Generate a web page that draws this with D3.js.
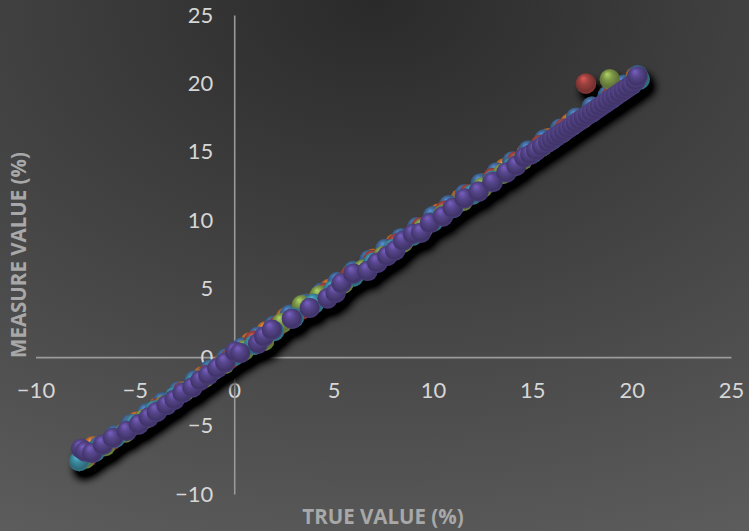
<!DOCTYPE html>
<html>
<head>
<meta charset="utf-8">
<script src="https://cdn.jsdelivr.net/npm/d3@7"></script>
<style>
  html, body { margin: 0; padding: 0; background: #3a3a3a; }
  svg { display: block; }
  .tick text { font-family: Lato, "Open Sans", sans-serif; font-size: 22px; fill: #d6d6d6; }
  .ttl { font-family: "Open Sans", Lato, sans-serif; font-size: 20.5px; font-weight: bold; fill: #a8a8a8; }
</style>
</head>
<body>
<svg id="chart" width="749" height="531"></svg>
<script>
// tick labels
const xTicks = [-10, -5, 0, 5, 10, 15, 20, 25];
const yTicks = [-10, -5, 0, 5, 10, 15, 20, 25];

// series (true value, measured value)
const orangeX = [-7.1, -6.0, -4.9, -3.8, -2.7, -1.6, -0.5, 0.8, 1.6, 2.6, 3.7, 4.8, 5.9, 7.0, 8.1, 9.2, 10.3, 11.4, 12.5, 13.6, 14.7, 15.8, 16.9, 18.0, 19.1, 20.2];
const orangeY = [-6.5, -5.8, -4.7, -3.6, -2.5, -1.4, -0.3, 1.1, 1.9, 2.9, 3.9, 5.0, 6.1, 7.2, 8.3, 9.4, 10.5, 11.6, 12.7, 13.8, 14.9, 16.0, 17.1, 18.2, 19.3, 20.5];
const blueX = [-7.6, -6.8, -6.0, -5.2, -4.4, -3.6, -2.8, -2.0, -1.2, -0.4, 0.4, 1.2, 2.0, 2.8, 3.6, 4.4, 5.2, 6.0, 6.8, 7.6, 8.4, 9.2, 10.0, 10.8, 11.6, 12.4, 13.2, 14.0, 14.8, 15.6, 16.4, 17.2, 18.0, 18.8, 19.6, 20.3];
const blueY = [-7.3, -6.5, -5.7, -4.9, -4.1, -3.3, -2.5, -1.7, -0.9, -0.1, 0.7, 1.5, 2.3, 3.1, 3.9, 4.7, 5.5, 6.3, 7.1, 7.9, 8.7, 9.5, 10.3, 11.1, 11.9, 12.7, 13.5, 14.3, 15.1, 15.9, 16.7, 17.5, 18.3, 19.1, 19.9, 20.6];
const redX = [-7.4, -6.2, -5.0, -3.8, -2.6, -1.4, -0.2, 1.0, 2.2, 3.4, 4.6, 5.8, 7.0, 8.2, 9.4, 10.6, 11.8, 13.0, 14.2, 15.4, 16.6, 17.7, 19.0, 20.2];
const redY = [-7.3, -6.1, -4.9, -3.7, -2.5, -1.3, -0.1, 1.2, 2.3, 3.5, 4.7, 5.9, 7.1, 8.3, 9.5, 10.7, 11.9, 13.1, 14.3, 15.5, 16.7, 20.0, 19.1, 20.3];
const greenX = [-7.5, -6.5, -5.5, -4.5, -3.5, -2.5, -1.5, -0.5, 0.5, 1.5, 2.4, 3.4, 4.3, 5.5, 6.5, 7.5, 8.5, 9.5, 10.5, 11.5, 12.5, 13.5, 14.5, 15.5, 16.5, 17.5, 18.9, 20.1];
const greenY = [-7.4, -6.5, -5.5, -4.5, -3.5, -2.5, -1.5, -0.5, 0.5, 1.2, 2.5, 3.8, 4.5, 5.4, 6.4, 7.4, 8.4, 9.4, 10.4, 11.4, 12.4, 13.4, 14.4, 15.4, 16.4, 17.4, 20.3, 20.1];
const aquaX = [-7.8, -7.0, -6.0, -5.0, -4.0, -3.0, -2.0, -1.0, 0.0, 1.0, 2.0, 3.0, 4.0, 5.0, 6.0, 7.0, 8.0, 9.0, 10.0, 11.0, 12.0, 13.0, 14.0, 15.0, 16.0, 17.0, 18.0, 19.0, 20.0, 20.4];
const aquaY = [-7.6, -6.9, -5.9, -4.9, -3.9, -2.9, -1.9, -0.9, 0.1, 0.9, 1.9, 2.9, 3.9, 4.9, 5.9, 6.9, 7.9, 8.9, 9.9, 10.9, 11.9, 12.9, 13.9, 14.9, 15.9, 16.9, 17.9, 18.9, 19.9, 20.3];
const purpleX = [-7.7, -7.5, -7.15, -6.6, -6.1, -5.4, -4.8, -4.3, -3.9, -3.4, -3.0, -2.6, -2.1, -1.7, -1.3, -0.85, -0.45, 0.05, 0.3, 1.2, 1.5, 1.9, 2.9, 3.8, 4.7, 5.1, 5.4, 6.0, 6.7, 7.2, 7.7, 8.1, 8.5, 9.0, 9.4, 9.85, 10.5, 11.0, 11.6, 12.3, 13.0, 13.7, 14.2, 14.6, 14.9, 15.2, 15.5, 15.8, 16.0, 16.2, 16.4, 16.6, 16.8, 17.0, 17.2, 17.4, 17.6, 17.8, 18.0, 18.2, 18.4, 18.6, 18.8, 19.0, 19.2, 19.4, 19.6, 19.8, 20.0, 20.2, 20.3];
const purpleY = [-6.7, -6.9, -7.0, -6.4, -5.9, -5.4, -4.9, -4.4, -4.0, -3.5, -3.1, -2.6, -2.2, -1.7, -1.3, -0.8, -0.4, 0.4, 0.3, 1.0, 1.5, 2.0, 2.8, 3.6, 4.3, 4.7, 5.4, 6.1, 6.3, 6.9, 7.4, 7.8, 8.5, 9.0, 9.1, 9.8, 10.3, 10.9, 11.6, 12.1, 12.8, 13.5, 14.0, 14.6, 14.8, 15.1, 15.4, 15.7, 15.9, 16.1, 16.3, 16.5, 16.7, 16.9, 17.1, 17.3, 17.5, 17.7, 17.9, 18.1, 18.3, 18.5, 18.7, 18.9, 19.1, 19.3, 19.5, 19.7, 19.9, 20.2, 20.5];

const series = [
    { name: "orange", color: "#E8863A", xs: orangeX, ys: orangeY },
    { name: "blue", color: "#4F81BD", xs: blueX, ys: blueY },
    { name: "red", color: "#C0504D", xs: redX, ys: redY },
    { name: "green", color: "#9BBB59", xs: greenX, ys: greenY },
    { name: "aqua", color: "#4BACC6", xs: aquaX, ys: aquaY },
    { name: "purple", color: "#6A55AC", xs: purpleX, ys: purpleY }
];

const W = 749, H = 531, R = 10.2;
const svg = d3.select("#chart");
const defs = svg.append("defs");

// background
const bg = defs.append("radialGradient").attr("id", "bg")
    .attr("cx", "50%").attr("cy", "0%").attr("r", "115%");
bg.append("stop").attr("offset", "0%").attr("stop-color", "#2a2a2a");
bg.append("stop").attr("offset", "100%").attr("stop-color", "#5e5e5e");
svg.append("rect").attr("width", W).attr("height", H).attr("fill", "url(#bg)");

// shadow under the bubbles
const f = defs.append("filter").attr("id", "shadow").attr("x", "-20%").attr("y", "-20%").attr("width", "140%").attr("height", "140%");
f.append("feGaussianBlur").attr("in", "SourceAlpha").attr("stdDeviation", 4.5).attr("result", "b");
f.append("feOffset").attr("in", "b").attr("dx", 5).attr("dy", 8).attr("result", "o");
f.append("feComponentTransfer").attr("in", "o").attr("result", "s")
    .append("feFuncA").attr("type", "linear").attr("slope", 1.5);
const mg = f.append("feMerge");
mg.append("feMergeNode").attr("in", "s");
mg.append("feMergeNode").attr("in", "SourceGraphic");

// sphere shading per series
series.forEach(s => {
    const c = d3.color(s.color);
    const g = defs.append("radialGradient").attr("id", "sph-" + s.name)
        .attr("cx", "48%").attr("cy", "45%").attr("r", "58%").attr("fx", "36%").attr("fy", "24%");
    g.append("stop").attr("offset", "0%").attr("stop-color", c.brighter(0.35));
    g.append("stop").attr("offset", "40%").attr("stop-color", c.darker(0.6));
    g.append("stop").attr("offset", "82%").attr("stop-color", c.darker(1.4));
    g.append("stop").attr("offset", "100%").attr("stop-color", c.darker(0.9));
});

const x = d3.scaleLinear().domain([-10, 25]).range([35.5, 731]);
const y = d3.scaleLinear().domain([-10, 25]).range([494, 15]);

// axes crossing at zero
const xAxis = svg.append("g").attr("transform", `translate(0,${y(0)})`)
    .call(d3.axisBottom(x).tickValues(xTicks).tickSize(0).tickSizeOuter(0).tickPadding(25));
const yAxis = svg.append("g").attr("transform", `translate(${x(0)},0)`)
    .call(d3.axisLeft(y).tickValues(yTicks).tickSize(0).tickSizeOuter(0).tickPadding(21));
[xAxis, yAxis].forEach(a => {
    a.select(".domain").attr("stroke", "#9a9a9a").attr("stroke-width", 1.6);
    a.selectAll(".tick line").remove();
});

// bubbles
const bub = svg.append("g").attr("filter", "url(#shadow)");
series.forEach(s => {
    bub.append("g").selectAll("circle")
        .data(s.xs.map((v, i) => [v, s.ys[i]]))
        .join("circle")
        .attr("cx", d => x(d[0])).attr("cy", d => y(d[1])).attr("r", R)
        .attr("fill", `url(#sph-${s.name})`);
});

// titles
svg.append("text").attr("class", "ttl").attr("x", 383).attr("y", 524)
    .attr("text-anchor", "middle").text("TRUE VALUE (%)");
svg.append("text").attr("class", "ttl").attr("transform", "translate(26,255) rotate(-90)")
    .attr("text-anchor", "middle").text("MEASURE VALUE (%)");
</script>
</body>
</html>
